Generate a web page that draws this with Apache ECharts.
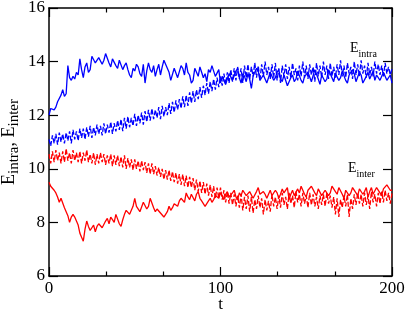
<!DOCTYPE html>
<html>
<head>
<meta charset="utf-8">
<script src="https://cdn.jsdelivr.net/npm/echarts@6/dist/echarts.min.js"></script>
<style>html,body{margin:0;padding:0;background:#fff}#c{width:407px;height:312px}</style>
</head>
<body>
<div id="c"></div>
<script>
var tValues = [
  0, 1, 2, 3, 4, 5, 6, 7, 8, 9,
  10, 11, 12, 13, 14, 15, 16, 17, 18, 19,
  20, 21, 22, 23, 24, 25, 26, 27, 28, 29,
  30, 31, 32, 33, 34, 35, 36, 37, 38, 39,
  40, 41, 42, 43, 44, 45, 46, 47, 48, 49,
  50, 51, 52, 53, 54, 55, 56, 57, 58, 59,
  60, 61, 62, 63, 64, 65, 66, 67, 68, 69,
  70, 71, 72, 73, 74, 75, 76, 77, 78, 79,
  80, 81, 82, 83, 84, 85, 86, 87, 88, 89,
  90, 91, 92, 93, 94, 95, 96, 97, 98, 99,
  100, 101, 102, 103, 104, 105, 106, 107, 108, 109,
  110, 111, 112, 113, 114, 115, 116, 117, 118, 119,
  120, 121, 122, 123, 124, 125, 126, 127, 128, 129,
  130, 131, 132, 133, 134, 135, 136, 137, 138, 139,
  140, 141, 142, 143, 144, 145, 146, 147, 148, 149,
  150, 151, 152, 153, 154, 155, 156, 157, 158, 159,
  160, 161, 162, 163, 164, 165, 166, 167, 168, 169,
  170, 171, 172, 173, 174, 175, 176, 177, 178, 179,
  180, 181, 182, 183, 184, 185, 186, 187, 188, 189,
  190, 191, 192, 193, 194, 195, 196, 197, 198, 199,
  200
];
var intraSolid = [
  12.0, 12.25, 12.3, 12.2, 12.3, 12.5, 12.45, 12.75, 12.95, 12.7,
  12.8, 13.85, 13.4, 13.3, 13.45, 13.35, 13.6, 13.5, 14.1, 13.7,
  13.4, 13.8, 13.95, 13.6, 13.7, 14.2, 14.25, 13.95, 13.9, 14.15,
  14.2, 13.9, 14.05, 14.3, 14.25, 13.95, 13.8, 14.1, 14.15, 13.85,
  13.75, 14.05, 14.1, 13.7, 13.85, 13.95, 13.7, 13.5, 13.4, 13.75,
  13.65, 13.9, 13.8, 13.55, 13.45, 13.9, 13.2, 13.65, 13.95, 13.7,
  13.6, 13.85, 13.45, 13.7, 13.9, 13.5, 13.8, 14.05, 14.0, 13.75,
  13.6, 13.3, 13.3, 13.75, 13.7, 13.4, 13.45, 13.85, 13.75, 13.5,
  13.95, 13.6, 13.5, 13.2, 13.3, 13.75, 13.7, 13.45, 13.8, 13.6,
  13.4, 13.55, 13.25, 13.7, 13.6, 13.85, 13.8, 13.45, 13.5, 13.7,
  13.2, 13.45, 13.5, 13.15, 13.1, 13.55, 13.6, 13.3, 13.3, 13.65,
  13.75, 13.4, 13.2, 13.55, 13.45, 13.25, 13.55, 13.35, 13.0, 13.45,
  13.4, 13.75, 13.65, 13.3, 13.3, 13.5, 13.5, 13.2, 13.15, 13.6,
  13.55, 13.3, 13.4, 13.6, 13.7, 13.35, 13.25, 13.5, 13.45, 13.1,
  13.05, 13.4, 13.5, 13.25, 13.35, 13.65, 13.6, 13.3, 13.2, 13.45,
  13.4, 13.6, 13.55, 13.25, 13.3, 13.7, 13.65, 13.35, 13.15, 13.5,
  13.45, 13.25, 13.35, 13.7, 13.7, 13.4, 13.25, 13.55, 13.5, 13.3,
  13.4, 13.65, 13.6, 13.3, 13.2, 13.5, 13.45, 13.7, 13.55, 13.25,
  13.3, 13.6, 13.5, 13.2, 13.15, 13.45, 13.6, 13.35, 13.4, 13.65,
  13.3, 13.5, 13.55, 13.3, 13.25, 13.6, 13.45, 13.3, 13.35, 13.5,
  13.2
];
var intraDashed = [
  11.1, 10.85, 11.25, 10.95, 11.3, 10.9, 11.35, 11.0, 11.3, 10.95,
  11.35, 11.05, 11.4, 10.95, 11.45, 11.1, 11.4, 11.05, 11.5, 11.15,
  11.5, 11.1, 11.55, 11.2, 11.6, 11.15, 11.55, 11.25, 11.65, 11.3,
  11.6, 11.25, 11.7, 11.3, 11.65, 11.35, 11.75, 11.3, 11.7, 11.4,
  11.8, 11.45, 11.85, 11.4, 11.9, 11.5, 11.95, 11.55, 11.9, 11.6,
  12.05, 11.6, 12.0, 11.7, 12.1, 11.65, 12.15, 11.75, 12.2, 11.8,
  12.25, 11.85, 12.2, 11.9, 12.3, 11.85, 12.35, 11.95, 12.3, 12.0,
  12.45, 12.05, 12.5, 12.1, 12.55, 12.2, 12.6, 12.25, 12.7, 12.3,
  12.75, 12.35, 12.85, 12.45, 12.9, 12.5, 12.95, 12.6, 13.05, 12.65,
  13.1, 12.75, 13.2, 12.8, 13.25, 12.9, 13.35, 12.95, 13.4, 13.05,
  13.45, 13.1, 13.55, 13.15, 13.6, 13.2, 13.7, 13.25, 13.75, 13.3,
  13.8, 13.35, 13.75, 13.2, 13.85, 13.4, 13.9, 13.35, 13.8, 13.45,
  13.95, 13.4, 13.85, 13.3, 13.9, 13.45, 14.0, 13.5, 13.8, 13.35,
  13.9, 13.4, 13.95, 13.3, 13.75, 13.2, 13.85, 13.45, 13.9, 13.35,
  13.8, 13.4, 13.95, 13.5, 13.75, 13.3, 13.85, 13.45, 14.0, 13.4,
  13.85, 13.35, 13.9, 13.5, 13.8, 13.25, 13.95, 13.45, 13.85, 13.4,
  14.0, 13.5, 13.85, 13.35, 13.95, 13.45, 13.8, 13.4, 13.9, 13.5,
  14.05, 13.45, 13.85, 13.4, 13.95, 13.55, 13.8, 13.35, 14.0, 13.5,
  13.9, 13.45, 14.05, 13.55, 13.85, 13.4, 13.95, 13.5, 13.8, 13.45,
  14.0, 13.55, 13.9, 13.5, 13.85, 13.45, 13.95, 13.55, 13.8, 13.5,
  13.75
];
var interSolid = [
  9.5, 9.35, 9.3, 9.2, 9.1, 8.95, 8.75, 8.9, 8.85, 8.55,
  8.4, 8.25, 8.0, 8.2, 8.3, 8.2, 8.05, 7.9, 7.6, 7.45,
  7.3, 7.75, 8.05, 7.85, 7.7, 7.8, 7.9, 7.65, 7.85, 7.95,
  8.0, 7.8, 7.85, 8.05, 8.15, 7.95, 8.2, 8.1, 8.0, 8.3,
  8.25, 7.95, 7.85, 8.1, 8.3, 8.45, 8.5, 8.3, 8.3, 8.6,
  8.9, 8.6, 8.55, 8.4, 8.45, 8.75, 8.7, 8.5, 8.6, 8.9,
  8.85, 8.55, 8.4, 8.5, 8.55, 8.35, 8.3, 8.2, 8.15, 8.4,
  8.6, 8.45, 8.55, 8.7, 8.75, 8.6, 8.8, 8.9, 8.95, 8.75,
  9.1, 8.95, 8.85, 9.05, 9.0, 8.8, 9.05, 9.15, 8.9, 8.8,
  8.75, 8.6, 8.6, 8.8, 8.9, 8.75, 8.85, 9.0, 9.05, 8.9,
  9.1, 9.0, 8.85, 9.05, 9.15, 8.95, 8.9, 9.1, 9.2, 8.95,
  8.85, 9.1, 9.0, 9.2, 9.25, 9.0, 8.95, 9.15, 9.1, 8.9,
  8.9, 9.15, 9.3, 9.05, 9.0, 9.15, 9.05, 8.9, 8.95, 9.2,
  9.0, 8.95, 9.2, 9.1, 8.9, 9.05, 9.25, 9.1, 9.05, 9.3,
  8.85, 9.05, 9.2, 9.0, 9.0, 9.25, 9.1, 9.35, 9.3, 9.05,
  8.95, 9.2, 9.15, 9.35, 9.35, 9.1, 9.0, 9.25, 9.2, 9.0,
  8.95, 9.2, 9.25, 9.0, 9.1, 9.35, 9.35, 9.15, 9.05, 9.3,
  9.3, 9.05, 8.9, 9.2, 9.25, 9.0, 9.1, 9.3, 9.35, 9.1,
  9.0, 9.25, 9.25, 9.05, 9.15, 9.3, 8.95, 9.15, 9.3, 9.05,
  9.1, 9.3, 9.35, 9.1, 9.0, 9.25, 9.25, 9.4, 9.4, 9.2,
  9.2
];
var interDashed = [
  10.55, 10.2, 10.65, 10.25, 10.7, 10.3, 10.6, 10.2, 10.65, 10.25,
  10.75, 10.3, 10.6, 10.2, 10.7, 10.3, 10.6, 10.25, 10.65, 10.2,
  10.6, 10.3, 10.7, 10.25, 10.55, 10.2, 10.6, 10.15, 10.55, 10.2,
  10.6, 10.25, 10.55, 10.15, 10.5, 10.2, 10.55, 10.1, 10.5, 10.15,
  10.5, 10.1, 10.45, 10.05, 10.5, 10.0, 10.4, 10.05, 10.35, 9.95,
  10.35, 10.0, 10.3, 9.9, 10.3, 9.95, 10.25, 9.85, 10.2, 9.8,
  10.2, 9.8, 10.1, 9.75, 10.05, 9.7, 10.0, 9.6, 9.95, 9.6,
  9.95, 9.55, 9.9, 9.5, 9.85, 9.45, 9.8, 9.4, 9.8, 9.35,
  9.75, 9.3, 9.7, 9.3, 9.65, 9.2, 9.6, 9.15, 9.55, 9.1,
  9.5, 9.05, 9.45, 9.0, 9.4, 8.95, 9.35, 8.9, 9.3, 8.9,
  9.3, 8.85, 9.2, 8.75, 9.15, 8.7, 9.1, 8.65, 9.05, 8.6,
  9.0, 8.55, 9.05, 8.45, 8.95, 8.5, 9.0, 8.4, 8.95, 8.35,
  8.85, 8.5, 9.0, 8.55, 8.9, 8.3, 8.85, 8.45, 8.8, 8.4,
  9.05, 8.6, 8.95, 8.5, 9.0, 8.55, 9.1, 8.65, 8.95, 8.5,
  9.1, 8.7, 9.0, 8.55, 9.15, 8.75, 9.05, 8.6, 9.1, 8.7,
  9.0, 8.55, 9.1, 8.65, 9.05, 8.6, 8.95, 8.5, 9.0, 8.65,
  9.05, 8.6, 9.1, 8.7, 9.0, 8.55, 8.95, 8.3, 8.9, 8.2,
  8.85, 8.55, 9.0, 8.6, 9.05, 8.2, 8.9, 8.5, 9.05, 8.65,
  9.1, 8.7, 9.05, 8.6, 9.1, 8.65, 9.0, 8.5, 9.15, 8.75,
  9.05, 8.6, 9.1, 8.7, 9.15, 8.75, 9.2, 8.8, 9.1, 8.7,
  9.1
];
var xTicks = [0, 100, 200];
var yTicks = [6, 8, 10, 12, 14, 16];

function pairs(vals) {
  return tValues.map(function (t, i) { return [t, vals[i]]; });
}

var FONT = 'Liberation Serif';
var chart = echarts.init(document.getElementById('c'), null, {renderer: 'canvas'});

function xAx(pos, showLabel) {
  return {
    type: 'value', position: pos, min: xTicks[0], max: xTicks[xTicks.length - 1], interval: 100,
    axisLine: {show: true, onZero: false, lineStyle: {color: '#000', width: 1.5}},
    axisTick: {show: true, inside: true, length: 9, lineStyle: {color: '#000', width: 1.2}},
    minorTick: {show: true, splitNumber: 3, length: 4.5, lineStyle: {color: '#000', width: 1.2}},
    splitLine: {show: false},
    axisLabel: {show: showLabel, color: '#000', fontFamily: FONT, fontSize: 17, margin: 4},
    name: showLabel ? 't' : '', nameLocation: 'middle', nameGap: 20, nameMoveOverlap: false,
    nameTextStyle: {color: '#000', fontFamily: FONT, fontSize: 17}
  };
}
function yAx(pos, showLabel) {
  return {
    type: 'value', position: pos, min: yTicks[0], max: yTicks[yTicks.length - 1], interval: 2,
    axisLine: {show: true, onZero: false, lineStyle: {color: '#000', width: 1.5}},
    axisTick: {show: true, inside: true, length: 9, lineStyle: {color: '#000', width: 1.2}},
    splitLine: {show: false},
    axisLabel: {show: showLabel, color: '#000', fontFamily: FONT, fontSize: 17, margin: 4},
    name: showLabel ? '{e|E}{s|intra}{e|, E}{s|inter}' : '',
    nameLocation: 'middle', nameGap: 27, nameRotate: 90, nameMoveOverlap: false,
    nameTextStyle: {
      color: '#000', fontFamily: FONT,
      rich: {
        e: {fontFamily: FONT, fontSize: 18, color: '#000', verticalAlign: 'bottom', padding: [0, 0, 4, 0]},
        s: {fontFamily: FONT, fontSize: 15, color: '#000', verticalAlign: 'bottom'}
      }
    }
  };
}

function line(vals, color, dashed) {
  return {
    type: 'line', data: pairs(vals), xAxisIndex: 0, yAxisIndex: 0,
    showSymbol: false, symbol: 'none', animation: false,
    lineStyle: {color: color, width: 1.3, type: dashed ? [5, 2] : 'solid'}
  };
}

function subLabel(x, y, sub) {
  return {
    type: 'text', x: x, y: y, silent: true,
    style: {
      text: '{e|E}{s|' + sub + '}', textAlign: 'left', textVerticalAlign: 'bottom',
      rich: {
        e: {fontFamily: FONT, fontSize: 14, fill: '#000', verticalAlign: 'bottom', padding: [0, 0, 4, 0]},
        s: {fontFamily: FONT, fontSize: 10, fill: '#000', verticalAlign: 'bottom'}
      }
    }
  };
}

chart.setOption({
  animation: false,
  backgroundColor: '#fff',
  grid: {left: 49, right: 15, top: 8, bottom: 36, containLabel: false, outerBoundsMode: 'none'},
  xAxis: [xAx('bottom', true), xAx('top', false)],
  yAxis: [yAx('left', true), yAx('right', false)],
  series: [
    line(intraDashed, '#0000ff', true),
    line(intraSolid, '#0000ff', false),
    line(interDashed, '#ff0000', true),
    line(interSolid, '#ff0000', false)
  ],
  graphic: [subLabel(350, 59, 'intra'), subLabel(348, 179, 'inter')]
});
</script>
</body>
</html>
